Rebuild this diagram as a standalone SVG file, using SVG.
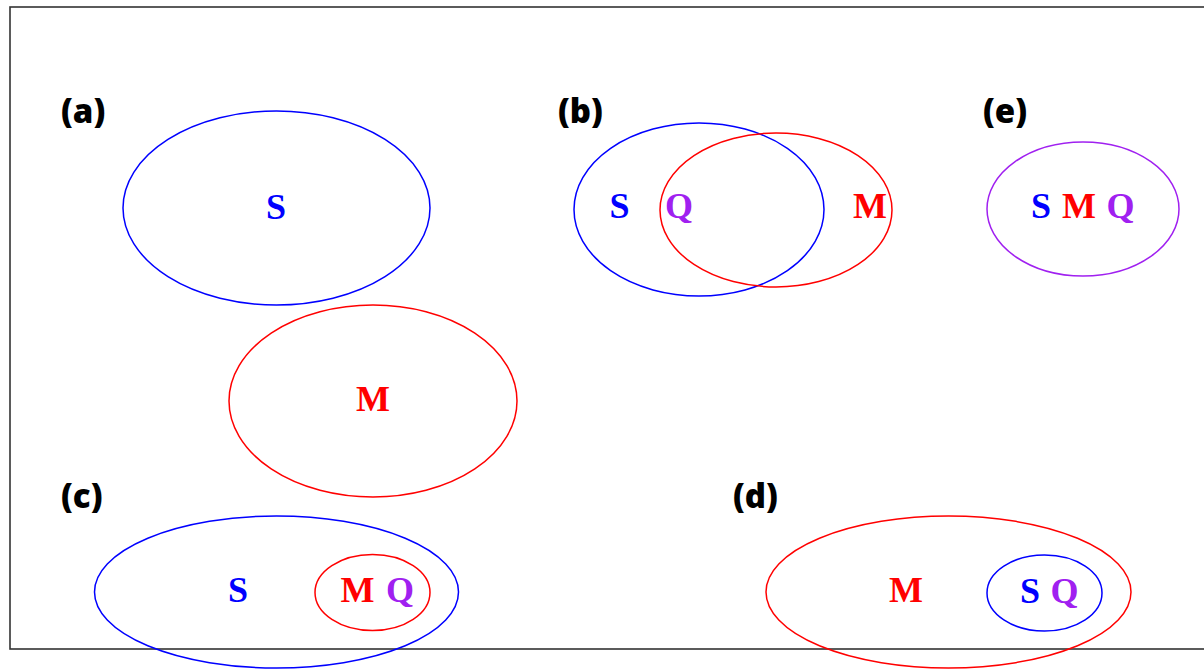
<svg xmlns="http://www.w3.org/2000/svg" width="1204" height="670" viewBox="0 0 1204 670">
<style>
.frame{fill:none;stroke:#333;stroke-width:1.6}
.e{fill:none;stroke-width:1.5}
.b{stroke:#0000ff}
.r{stroke:#ff0000}
.p{stroke:#a020f0}
.t{font-family:"Liberation Serif",serif;font-weight:bold;font-size:36px;text-anchor:middle}
.tb{fill:#0000ff}
.tr{fill:#ff0000}
.tp{fill:#a020f0}
.lab{font-family:"Open Sans","DejaVu Sans",sans-serif;font-weight:800;font-size:33px;fill:#000}
</style>
<rect class="frame" x="10" y="7" width="1210" height="642"/>
<g id="panel-a">
<text class="lab" x="61" y="123">(a)</text>
<g id="a-S"><ellipse class="e b" cx="276.5" cy="208" rx="153.5" ry="97"/><text class="t tb" x="276" y="219">S</text></g>
<g id="a-M"><ellipse class="e r" cx="373" cy="401" rx="144" ry="96"/><text class="t tr" x="373" y="411">M</text></g>
</g>
<g id="panel-b">
<text class="lab" x="558" y="123">(b)</text>
<g id="b-S"><ellipse class="e b" cx="699" cy="209.5" rx="125" ry="86.5"/><text class="t tb" x="619.5" y="218">S</text></g>
<g id="b-M"><ellipse class="e r" cx="776" cy="210" rx="116" ry="77"/><text class="t tr" x="870" y="218">M</text></g>
<g id="b-Q"><text class="t tp" x="679" y="218">Q</text></g>
</g>
<g id="panel-e">
<text class="lab" x="983" y="123">(e)</text>
<g id="e-SMQ"><ellipse class="e p" cx="1083" cy="209" rx="96" ry="67"/>
<text class="t tb" x="1041" y="218">S</text><text class="t tr" x="1079" y="218">M</text><text class="t tp" x="1120.5" y="218">Q</text></g>
</g>
<g id="panel-c">
<text class="lab" x="61" y="508">(c)</text>
<g id="c-S"><ellipse class="e b" cx="276.5" cy="592" rx="182" ry="76"/><text class="t tb" x="238" y="602">S</text></g>
<g id="c-MQ"><ellipse class="e r" cx="372.5" cy="592.5" rx="57.5" ry="38"/>
<text class="t tr" x="357.5" y="602">M</text><text class="t tp" x="400" y="602">Q</text></g>
</g>
<g id="panel-d">
<text class="lab" x="733" y="508">(d)</text>
<g id="d-M"><ellipse class="e r" cx="948.5" cy="592" rx="182.5" ry="76"/><text class="t tr" x="906" y="602">M</text></g>
<g id="d-SQ"><ellipse class="e b" cx="1044.5" cy="593" rx="57.5" ry="38"/>
<text class="t tb" x="1030" y="603">S</text><text class="t tp" x="1064.5" y="603">Q</text></g>
</g>
</svg>
